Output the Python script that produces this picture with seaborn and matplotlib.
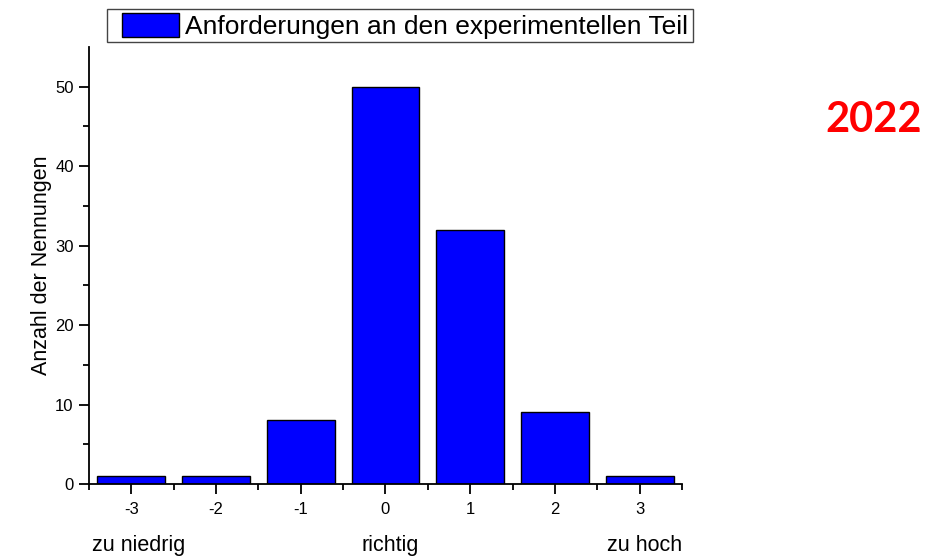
import matplotlib
matplotlib.use("Agg")
import matplotlib.pyplot as plt
from matplotlib.ticker import FixedLocator
from matplotlib.patches import Patch, Rectangle
import seaborn as sns
import pandas as pd

categories = ["-3", "-2", "-1", "0", "1", "2", "3"]
counts = [1, 1, 8, 50, 32, 9, 1]
series_name = "Anforderungen an den experimentellen Teil"
scale_labels = ["zu niedrig", "richtig", "zu hoch"]
year_label = "2022"

sns.set_theme(style="ticks")
plt.rcParams["font.family"] = ["Liberation Sans", "DejaVu Sans"]
plt.rcParams["text.color"] = "black"
plt.rcParams["axes.labelcolor"] = "black"
plt.rcParams["xtick.color"] = "black"
plt.rcParams["ytick.color"] = "black"

df = pd.DataFrame({"Bewertung": categories, "Anzahl": counts, "Serie": series_name})

fig = plt.figure(figsize=(9.46, 5.56), dpi=100)
ax = fig.add_axes([0.094, 0.1295, 0.627, 0.786])

sns.barplot(data=df, x="Bewertung", y="Anzahl", hue="Serie", order=categories,
            palette=["#0000FF"], width=0.8, edgecolor="black", linewidth=1.0,
            saturation=1, ax=ax, legend=False)

ax.set_xlim(-0.5, 6.5)
ax.set_ylim(0, 55)
ax.yaxis.set_major_locator(FixedLocator([0, 10, 20, 30, 40, 50]))
ax.yaxis.set_minor_locator(FixedLocator([5, 15, 25, 35, 45]))
ax.xaxis.set_minor_locator(FixedLocator([i - 0.5 for i in range(8)]))
ax.tick_params(axis="both", which="major", direction="out", length=7, width=1.3,
               labelsize=12, color="black", labelcolor="black")
ax.tick_params(axis="both", which="minor", direction="out", length=4, width=1.3,
               color="black")
ax.tick_params(axis="x", pad=6)
ax.tick_params(axis="y", pad=4)
ax.set_xlabel("")
ax.set_ylabel("Anzahl der Nennungen", fontsize=15.5, labelpad=2, color="black")
for side in ["top", "right"]:
    ax.spines[side].set_visible(False)
for side in ["left", "bottom"]:
    ax.spines[side].set_linewidth(1.3)
    ax.spines[side].set_color("black")

# scale labels below the axis
ax.text(0.005, -0.14, scale_labels[0], transform=ax.transAxes, fontsize=15.5,
        ha="left", va="center")
t = ax.text(3.05, 0, scale_labels[1], transform=ax.get_xaxis_transform(), fontsize=15.5,
            ha="center", va="center")
t.set_position((3.05, -0.14))
ax.text(1.0, -0.14, scale_labels[2], transform=ax.transAxes, fontsize=15.5,
        ha="right", va="center")

# legend
handle = Patch(facecolor="#0000FF", edgecolor="black", linewidth=1.0)
leg = fig.legend([handle], [series_name], loc="center left",
                 bbox_to_anchor=(122 / 946, 1 - 26 / 556), fontsize=19, frameon=False,
                 handlelength=2.15, handleheight=1.05, handletextpad=0.25,
                 borderpad=0.0, borderaxespad=0)
fig.patches.append(Rectangle((107 / 946, 1 - 42 / 556), 586 / 946, 33 / 556,
                             transform=fig.transFigure, fill=False,
                             edgecolor="#444444", linewidth=1.0))

fig.text(0.923, 0.784, year_label, color="#FF0000", fontsize=30, fontweight="bold",
         family=["Lato", "DejaVu Sans"], ha="center", va="center")

fig.savefig("out.png", dpi=100, facecolor="white")
